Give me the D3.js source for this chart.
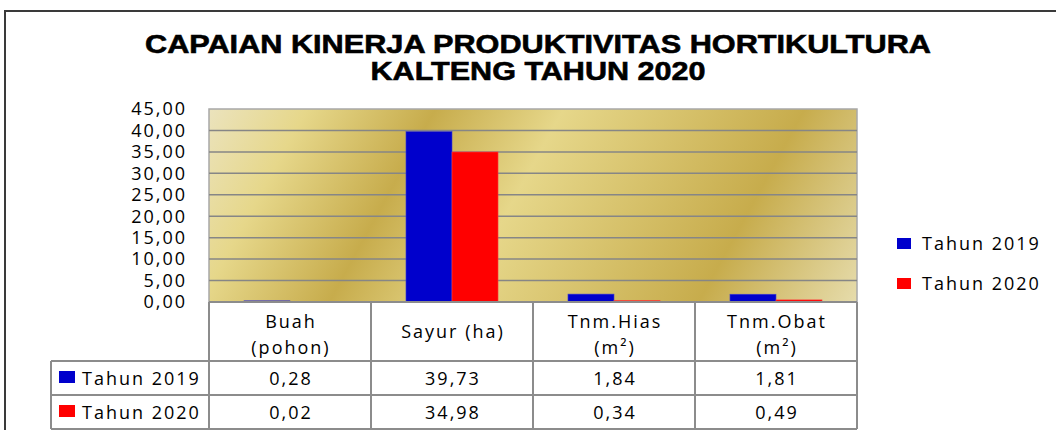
<!DOCTYPE html>
<html>
<head>
<meta charset="utf-8">
<script src="https://cdn.jsdelivr.net/npm/d3@7"></script>
<style>
  html, body { margin: 0; padding: 0; background: #fff; }
  svg { display: block; }
</style>
</head>
<body>
<svg id="chart" width="1056" height="430"></svg>
<script>
// chart data
var categoryLines = [["Buah", "(pohon)"], ["Sayur (ha)"], ["Tnm.Hias", "(m²)"], ["Tnm.Obat", "(m²)"]];
var categories = ["Buah (pohon)", "Sayur (ha)", "Tnm.Hias (m²)", "Tnm.Obat (m²)"];
var seriesNames = ["Tahun 2019", "Tahun 2020"];
var seriesColors = ["#0000cc", "#ff0000"];
var values2019 = [0.28, 39.73, 1.84, 1.81];
var values2020 = [0.02, 34.98, 0.34, 0.49];
var yTickValues = [0, 5, 10, 15, 20, 25, 30, 35, 40, 45];
var titleLines = ["CAPAIAN KINERJA PRODUKTIVITAS HORTIKULTURA", "KALTENG TAHUN 2020"];

var seriesValues = [values2019, values2020];

var svg = d3.select("#chart");
var font = "'Open Sans', 'DejaVu Sans', sans-serif";
var fmt = d3.formatLocale({decimal: ",", thousands: ".", grouping: [3], currency: ["", ""]}).format(".2f");

// plot area (don't call these top/left, window.top is taken)
var pLeft = 209, pRight = 857, pTop = 109, pBottom = 302;

var x0 = d3.scaleBand().domain(categories).range([pLeft, pRight]).padding(0);
var x1 = d3.scaleBand().domain(seriesNames).range([0, x0.bandwidth()]).paddingInner(0).paddingOuter(0.76);
var y = d3.scaleLinear().domain([0, 45]).range([pBottom, pTop]);

// outer frame (only top/left visible)
svg.append("path")
    .attr("d", "M5,430 V11 H1056")
    .attr("fill", "none")
    .attr("stroke", "#3a3a3a")
    .attr("stroke-width", 2);

// title
svg.selectAll("text.title")
  .data(titleLines)
  .join("text")
    .attr("class", "title")
    .attr("x", 538)
    .attr("y", function(d, i) { return 53 + i * 27; })
    .attr("text-anchor", "middle")
    .attr("font-family", "'Liberation Sans', Arial, sans-serif")
    .attr("font-weight", "bold")
    .attr("font-size", 26)
    .attr("stroke", "#000")
    .attr("stroke-width", 0.6)
    .attr("textLength", function(d, i) { return i == 0 ? 786 : 335; })
    .attr("lengthAdjust", "spacingAndGlyphs")
    .attr("fill", "#000")
    .text(function(d) { return d; });

// gold background gradient
var defs = svg.append("defs");
var grad = defs.append("linearGradient")
    .attr("id", "gold")
    .attr("gradientUnits", "userSpaceOnUse")
    .attr("x1", pLeft).attr("y1", pTop)
    .attr("x2", pLeft + 661 * 0.8765).attr("y2", pTop + 661 * 0.4814);
[[0, "#ebe3bd"], [0.13, "#e6d78a"], [0.30, "#c7ac4c"], [0.47, "#e6d78a"], [0.79, "#c7ac4c"], [1, "#e6dcac"]]
  .forEach(function(s) {
    grad.append("stop").attr("offset", s[0]).attr("stop-color", s[1]);
  });

svg.append("rect")
    .attr("x", pLeft).attr("y", pTop)
    .attr("width", pRight - pLeft).attr("height", pBottom - pTop)
    .attr("fill", "url(#gold)")
    .attr("stroke", "#a8a8a8")
    .attr("stroke-width", 1.5);

// gridlines
svg.append("g")
  .selectAll("line")
  .data(yTickValues.filter(function(d) { return d > 0 && d < 45; }))
  .join("line")
    .attr("x1", pLeft).attr("x2", pRight)
    .attr("y1", function(d) { return y(d); })
    .attr("y2", function(d) { return y(d); })
    .attr("stroke", "#868686")
    .attr("stroke-width", 1.5);

// y labels
svg.append("g")
  .selectAll("text")
  .data(yTickValues)
  .join("text")
    .attr("x", 187)
    .attr("y", function(d) { return y(d); })
    .attr("dy", "0.35em")
    .attr("text-anchor", "end")
    .attr("font-family", font)
    .attr("font-size", 18)
    .attr("letter-spacing", 2)
    .attr("fill", "#000")
    .text(function(d) { return fmt(d); });

// bars
var groups = svg.append("g")
  .selectAll("g")
  .data(categories)
  .join("g")
    .attr("transform", function(d) { return "translate(" + x0(d) + ",0)"; });

groups.selectAll("rect")
  .data(function(d, i) {
    return seriesNames.map(function(s, j) { return {s: s, v: seriesValues[j][i], c: seriesColors[j]}; });
  })
  .join("rect")
    .attr("x", function(d) { return x1(d.s); })
    .attr("width", x1.bandwidth())
    .attr("y", function(d) { return y(d.v); })
    .attr("height", function(d) { return pBottom - y(d.v); })
    .attr("fill", function(d) { return d.c; })
    .attr("stroke", function(d) { return d.c == "#0000cc" ? "#4040d0" : "#ff4040"; })
    .attr("stroke-width", 0.6);

// axis line at bottom
svg.append("line")
    .attr("x1", pLeft).attr("x2", pRight)
    .attr("y1", pBottom).attr("y2", pBottom)
    .attr("stroke", "#8c8c8c")
    .attr("stroke-width", 2);

// data table
var tableLeft = 51, rowTop = [361, 395], rowH = 34;
var tbl = svg.append("g").attr("stroke", "#8c8c8c").attr("stroke-width", 2);

// vertical lines
var vx = [pLeft].concat(categories.map(function(c) { return x0(c) + x0.bandwidth(); }));
vx.forEach(function(vxi) {
  tbl.append("line").attr("x1", vxi).attr("x2", vxi).attr("y1", pBottom).attr("y2", rowTop[1] + rowH);
});
tbl.append("line").attr("x1", tableLeft).attr("x2", tableLeft).attr("y1", rowTop[0]).attr("y2", rowTop[1] + rowH);
[rowTop[0], rowTop[1], rowTop[1] + rowH].forEach(function(hy) {
  tbl.append("line").attr("x1", tableLeft).attr("x2", pRight).attr("y1", hy).attr("y2", hy);
});

// header labels
svg.append("g")
  .selectAll("text")
  .data(categories)
  .join("text")
    .attr("text-anchor", "middle")
    .attr("font-family", font)
    .attr("font-size", 18)
    .attr("letter-spacing", 2)
    .attr("fill", "#000")
    .each(function(d, i) {
      var lines = categoryLines[i];
      var cx = x0(d) + x0.bandwidth() / 2 + 1;
      var cy = lines.length == 1 ? [332] : [322, 348];
      var t = d3.select(this);
      lines.forEach(function(l, k) {
        t.append("tspan").attr("x", cx).attr("y", cy[k]).attr("dy", "0.35em").text(l);
      });
    });

// table rows
seriesNames.forEach(function(s, j) {
  var cy = rowTop[j] + rowH / 2;
  svg.append("rect")
      .attr("x", 59).attr("y", cy - 7)
      .attr("width", 16).attr("height", 12)
      .attr("fill", seriesColors[j]);
  svg.append("text")
      .attr("x", 82).attr("y", cy + 1)
      .attr("dy", "0.35em")
      .attr("font-family", font)
      .attr("font-size", 18)
      .attr("letter-spacing", 2)
      .text(s);
  svg.append("g")
    .selectAll("text")
    .data(categories)
    .join("text")
      .attr("x", function(d) { return x0(d) + x0.bandwidth() / 2 + 1; })
      .attr("y", cy + 1)
      .attr("dy", "0.35em")
      .attr("text-anchor", "middle")
      .attr("font-family", font)
      .attr("font-size", 18)
      .attr("letter-spacing", 2)
      .text(function(d, i) { return fmt(seriesValues[j][i]); });
});

// right legend
var legend = svg.append("g")
  .selectAll("g")
  .data(seriesNames)
  .join("g")
    .attr("transform", function(d, i) { return "translate(897," + (243 + i * 40) + ")"; });
legend.append("rect")
    .attr("x", 0).attr("y", -5)
    .attr("width", 14).attr("height", 11)
    .attr("fill", function(d, i) { return seriesColors[i]; });
legend.append("text")
    .attr("x", 25).attr("y", 1)
    .attr("dy", "0.35em")
    .attr("font-family", font)
    .attr("font-size", 18)
    .attr("letter-spacing", 2)
    .text(function(d) { return d; });
</script>
</body>
</html>
